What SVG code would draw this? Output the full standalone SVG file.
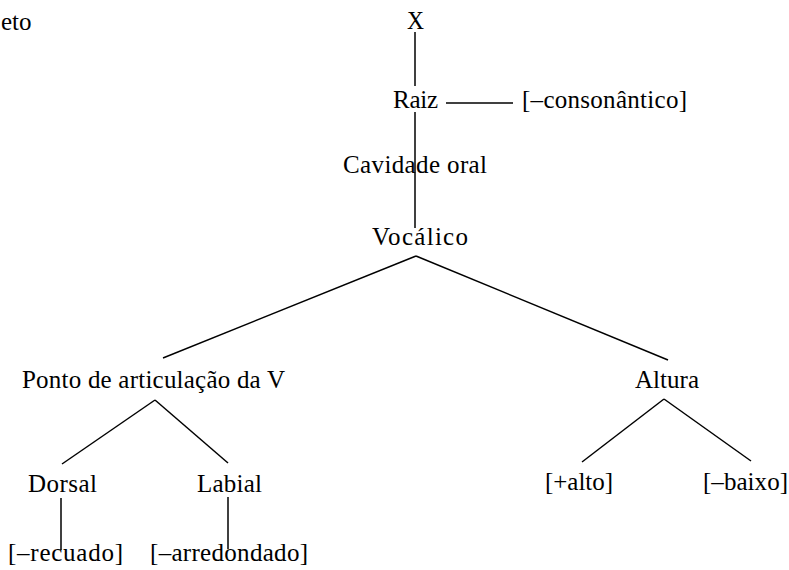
<svg xmlns="http://www.w3.org/2000/svg" width="789" height="570" viewBox="0 0 789 570">
<style>
text{font-family:"Liberation Serif","Times New Roman",serif;font-size:25px;fill:#000}
.c line{stroke:#000;stroke-width:1.5;fill:none}
</style>
<rect width="789" height="570" fill="#fff"/>
<g id="label-eto"><text x="1" y="30" font-size="23">eto</text></g>
<g class="c" id="connectors">
<line x1="415" y1="32" x2="415" y2="86"/>
<line x1="415" y1="112" x2="415" y2="228"/>
<line x1="446" y1="103" x2="513" y2="103"/>
<line x1="416" y1="256" x2="163" y2="358"/>
<line x1="416" y1="256" x2="668" y2="360"/>
<line x1="155" y1="400" x2="62" y2="464"/>
<line x1="155" y1="400" x2="228" y2="463"/>
<line x1="664" y1="399" x2="582" y2="462"/>
<line x1="664" y1="399" x2="751" y2="461"/>
<line x1="61" y1="498" x2="61" y2="550"/>
<line x1="228" y1="497" x2="228" y2="549"/>
</g>
<g id="node-x"><text x="407" y="29" textLength="17" lengthAdjust="spacingAndGlyphs">X</text></g>
<g id="node-raiz"><text x="393" y="108" textLength="45" lengthAdjust="spacing">Raiz</text></g>
<g id="node-consonantico"><text x="522" y="108" textLength="165" lengthAdjust="spacing">[–consonântico]</text></g>
<g id="node-cavidade"><text x="343" y="173" textLength="144" lengthAdjust="spacing">Cavidade oral</text></g>
<g id="node-vocalico"><text x="372" y="245" textLength="96" lengthAdjust="spacing">Vocálico</text></g>
<g id="node-ponto"><text x="22" y="388" textLength="263" lengthAdjust="spacing">Ponto de articulação da V</text></g>
<g id="node-altura"><text x="635" y="388" textLength="64" lengthAdjust="spacing">Altura</text></g>
<g id="node-dorsal"><text x="28" y="492" textLength="69" lengthAdjust="spacing">Dorsal</text></g>
<g id="node-labial"><text x="197" y="492" textLength="65" lengthAdjust="spacing">Labial</text></g>
<g id="node-alto"><text x="545" y="490" textLength="68" lengthAdjust="spacing">[+alto]</text></g>
<g id="node-baixo"><text x="703" y="490" textLength="85" lengthAdjust="spacing">[–baixo]</text></g>
<g id="node-recuado"><text x="8" y="561" textLength="115" lengthAdjust="spacing">[–recuado]</text></g>
<g id="node-arredondado"><text x="150" y="561" textLength="158" lengthAdjust="spacing">[–arredondado]</text></g>
</svg>
